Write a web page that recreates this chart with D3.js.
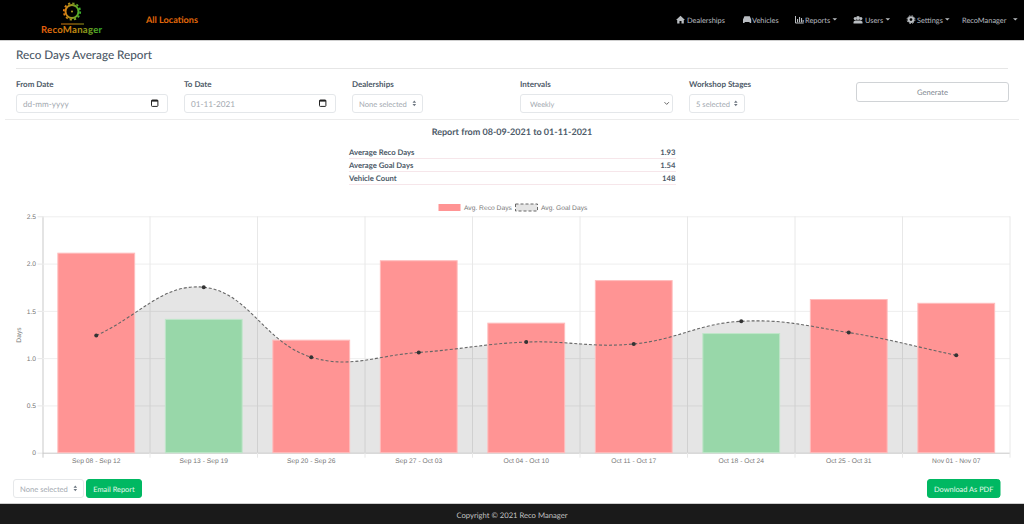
<!DOCTYPE html>
<html>
<head>
<meta charset="utf-8">
<title>Reco Days Average Report</title>
<script src="https://cdn.jsdelivr.net/npm/d3@7"></script>
<style>
html, body { margin: 0; padding: 0; background: #fff; overflow: hidden; }
svg { display: block; font-family: "Lato", sans-serif; text-rendering: geometricPrecision; }
.chart text { font-family: "Liberation Sans", sans-serif; }
</style>
</head>
<body>
<svg id="page" width="1024" height="524"></svg>
<script>
// chart data
const categories = ["Sep 08 - Sep 12", "Sep 13 - Sep 19", "Sep 20 - Sep 26", "Sep 27 - Oct 03", "Oct 04 - Oct 10", "Oct 11 - Oct 17", "Oct 18 - Oct 24", "Oct 25 - Oct 31", "Nov 01 - Nov 07"];
const recoDays = [2.11, 1.41, 1.19, 2.03, 1.37, 1.82, 1.26, 1.62, 1.58];
const goalDays = [1.24, 1.75, 1.01, 1.06, 1.17, 1.15, 1.39, 1.27, 1.03];
const yTicks = [0, 0.5, 1, 1.5, 2, 2.5];
const summaryLabels = ["Average Reco Days", "Average Goal Days", "Vehicle Count"];
const summaryValues = ["1.93", "1.54", "148"];

const svg = d3.select("#page");
const ink = "#4d5a68";

function label(g, x, y, str, size, color, weight, anchor) {
  return g.append("text").attr("x", x).attr("y", y).attr("font-size", size)
    .attr("fill", color).attr("font-weight", weight || 400)
    .attr("text-anchor", anchor || "start").text(str);
}

function box(g, x, y, w, h, stroke, fill, r) {
  return g.append("rect").attr("x", x + 0.5).attr("y", y + 0.5).attr("width", w - 1).attr("height", h - 1)
    .attr("rx", r === undefined ? 2.5 : r).attr("fill", fill || "#fff").attr("stroke", stroke || "#e4e7ea");
}

/* ---- top bar ---- */
const defs = svg.append("defs");
const grad = defs.append("linearGradient").attr("id", "logoGrad")
  .attr("gradientUnits", "userSpaceOnUse").attr("x1", 41).attr("x2", 102).attr("y1", 0).attr("y2", 0);
grad.append("stop").attr("offset", "0").attr("stop-color", "#e8590c");
grad.append("stop").attr("offset", "0.55").attr("stop-color", "#c98a10");
grad.append("stop").attr("offset", "1").attr("stop-color", "#2fb52f");
const gearGrad = defs.append("linearGradient").attr("id", "gearGrad")
  .attr("gradientUnits", "userSpaceOnUse").attr("x1", 63).attr("x2", 81).attr("y1", 0).attr("y2", 0);
gearGrad.append("stop").attr("offset", "0").attr("stop-color", "#f07a10");
gearGrad.append("stop").attr("offset", "1").attr("stop-color", "#37b52f");

const nav = svg.append("g");
nav.append("rect").attr("width", 1024).attr("height", 40).attr("fill", "#000");
nav.append("rect").attr("y", 40).attr("width", 1024).attr("height", 1).attr("fill", "#cfcfcf");

nav.append("circle").attr("cx", 72).attr("cy", 11.5).attr("r", 6.5).attr("fill", "none")
  .attr("stroke", "url(#gearGrad)").attr("stroke-width", 2);
nav.append("circle").attr("cx", 72).attr("cy", 11.5).attr("r", 8.2).attr("fill", "none")
  .attr("stroke", "url(#gearGrad)").attr("stroke-width", 1.8).attr("stroke-dasharray", "2.2 2.1");
nav.append("circle").attr("cx", 72).attr("cy", 11.5).attr("r", 1).attr("fill", "#b5a020");
nav.append("rect").attr("x", 61).attr("y", 23.5).attr("width", 23).attr("height", 1).attr("fill", "url(#logoGrad)");
label(nav, 41, 33, "RecoManager", 9.6, "url(#logoGrad)", 700).attr("letter-spacing", 0.25);

label(nav, 146, 23.3, "All Locations", 9.1, "#e0680a", 700);

const navText = "#b9bdc1";
function caret(x) {
  nav.append("path").attr("d", d3.line()([[x, 18.3], [x + 4.6, 18.3], [x + 2.3, 20.6]])).attr("fill", navText);
}
// little glyphs in the menu
nav.append("path").attr("fill", navText).attr("d", "M676 20l4.5-4.2 4.5 4.2h-1.2v3.4h-2.3v-2.3h-2v2.3h-2.3v-3.4z");
nav.append("path").attr("fill", navText).attr("d", "M743 23v-3.5l1.4-3.3h5.4l1.4 3.3v3.5h-1.6v-1h-5v1z");
nav.append("path").attr("fill", "none").attr("stroke", navText).attr("stroke-width", 1).attr("d", "M795.5 16v7h8.2");
[[797, 19, 3.3], [799, 17, 5.3], [801, 18, 4.3], [802.6, 20, 2.3]].forEach(b => {
  nav.append("rect").attr("x", b[0]).attr("y", b[1]).attr("width", 1.1).attr("height", b[2]).attr("fill", navText);
});
[[855.2, 18.4, 1.5], [858, 18, 1.9], [860.9, 18.4, 1.5]].forEach(c => {
  nav.append("circle").attr("cx", c[0]).attr("cy", c[1]).attr("r", c[2]).attr("fill", navText);
});
nav.append("path").attr("fill", navText).attr("d", "M853.5 23.4v-1.6l1.6-1.4h5.8l1.6 1.4v1.6z");
nav.append("circle").attr("cx", 911).attr("cy", 19.6).attr("r", 2.4).attr("fill", "none").attr("stroke", navText).attr("stroke-width", 2);
nav.append("circle").attr("cx", 911).attr("cy", 19.6).attr("r", 3.9).attr("fill", "none").attr("stroke", navText).attr("stroke-width", 1).attr("stroke-dasharray", "1.6 1.5");

label(nav, 687, 22.5, "Dealerships", 7.4, navText);
label(nav, 752, 22.5, "Vehicles", 7.4, navText);
label(nav, 805, 22.5, "Reports", 7.4, navText); caret(832.5);
label(nav, 865, 22.5, "Users", 7.4, navText); caret(885.5);
label(nav, 917, 22.5, "Settings", 7.4, navText); caret(945);
label(nav, 962, 23.2, "RecoManager", 7.4, navText); caret(1013);

/* ---- filter form ---- */
const form = svg.append("g");
label(form, 16, 59, "Reco Days Average Report", 11.7, "#4c5967", 500);
form.append("rect").attr("x", 16).attr("y", 68).attr("width", 992).attr("height", 1).attr("fill", "#e6e6e6");
form.append("rect").attr("x", 5).attr("y", 119).attr("width", 1014).attr("height", 1).attr("fill", "#ececec");

label(form, 16, 87, "From Date", 8, ink, 700);
label(form, 184, 87, "To Date", 8, ink, 700);
label(form, 352, 87, "Dealerships", 8, ink, 700);
label(form, 520, 87, "Intervals", 8, ink, 700);
label(form, 689, 87, "Workshop Stages", 8, ink, 700);

const hint = "#a3a9b0";
function calendar(x) {
  form.append("rect").attr("x", x + 0.5).attr("y", 100).attr("width", 6.4).attr("height", 6.4).attr("rx", 0.8)
    .attr("fill", "none").attr("stroke", "#222").attr("stroke-width", 1);
  form.append("rect").attr("x", x + 0.5).attr("y", 100).attr("width", 6.4).attr("height", 1.6).attr("fill", "#222");
}
box(form, 16, 94, 152, 19);
label(form, 23, 106.5, "dd-mm-yyyy", 8.2, hint);
calendar(151);
box(form, 184, 94, 152, 19);
label(form, 191, 106.5, "01-11-2021", 8.2, hint);
calendar(319);

function updown(g, x, y) {
  g.append("path").attr("fill", "#6d7680")
    .attr("d", `M${x} ${y - 0.6}l1.8-2.2 1.8 2.2zM${x} ${y + 0.6}l1.8 2.2 1.8-2.2z`);
}
box(form, 352, 94, 71, 19);
label(form, 359, 106.5, "None selected", 7.6, hint);
updown(form, 412.5, 103.4);
box(form, 520, 94, 153, 19);
label(form, 530, 106.5, "Weekly", 7.4, hint);
form.append("path").attr("fill", "none").attr("stroke", "#555").attr("stroke-width", 0.9).attr("d", "M664.5 102.2l2.2 2.2 2.2-2.2");
box(form, 689, 94, 56, 19);
label(form, 696, 106.5, "5 selected", 7.6, hint);
updown(form, 734, 103.4);

box(form, 856, 82, 153, 20, "#d0d3d6");
label(form, 932.5, 95, "Generate", 7.6, "#7c858e", 400, "middle");

/* ---- summary ---- */
const summary = svg.append("g");
label(summary, 512, 134.5, "Report from 08-09-2021 to 01-11-2021", 9, ink, 700, "middle");
summaryLabels.forEach((d, i) => {
  const y = 155 + i * 13;
  label(summary, 349, y, d, 7.7, ink, 700);
  label(summary, 675.5, y, summaryValues[i], 7.7, ink, 700, "end");
  summary.append("rect").attr("x", 349).attr("y", y + 3).attr("width", 327).attr("height", 1).attr("fill", "#f6e6ea");
});

/* ---- chart ---- */
const margin = { left: 42.5, right: 1010, top: 216.3, bottom: 452.7 };
const x = d3.scaleBand().domain(categories).range([margin.left, margin.right]).paddingInner(0.28).paddingOuter(0.14);
const y = d3.scaleLinear().domain([0, 2.5]).range([margin.bottom, margin.top]);
const step = x.step();
const xEdge = i => margin.left + i * step;
const cx = c => x(c) + x.bandwidth() / 2;

const chart = svg.append("g").attr("class", "chart");
const axisInk = "#777";

// horizontal grid + y axis
const yAxis = d3.axisLeft(y).tickValues(yTicks).tickFormat(d => d === 0 ? "0" : d3.format(".1f")(d))
  .tickSize(5).tickPadding(1.5);
const yG = chart.append("g").attr("transform", `translate(${margin.left},0)`).call(yAxis);
yG.select(".domain").attr("stroke", "#c9c9c9").attr("d", `M0.5,${margin.top}V${margin.bottom + 5}`);
yG.selectAll(".tick line").attr("stroke", "#e6e6e6").attr("x2", -5);
yG.selectAll(".tick").append("line").attr("x1", 0).attr("x2", margin.right - margin.left)
  .attr("stroke", d => d === 0 ? "#c9c9c9" : "#eeeeee");
yG.selectAll("text").attr("font-size", 6.7).attr("fill", axisInk).attr("font-family", "Liberation Sans");

// vertical grid
chart.append("g").selectAll("line").data(d3.range(1, 10)).join("line")
  .attr("x1", d => xEdge(d)).attr("x2", d => xEdge(d))
  .attr("y1", margin.top).attr("y2", margin.bottom + 5).attr("stroke", "#e8e8e8");

// chart.js style spline so the line overshoots between the points like the original
function splinePath(points, baseline) {
  const t = 0.4;
  const ctrl = points.map((p, i) => {
    const a = points[Math.max(i - 1, 0)], b = points[Math.min(i + 1, points.length - 1)];
    const d01 = Math.hypot(p[0] - a[0], p[1] - a[1]), d12 = Math.hypot(b[0] - p[0], b[1] - p[1]);
    const s = d01 + d12 || 1;
    return {
      prev: [p[0] - t * d01 / s * (b[0] - a[0]), p[1] - t * d01 / s * (b[1] - a[1])],
      next: [p[0] + t * d12 / s * (b[0] - a[0]), p[1] + t * d12 / s * (b[1] - a[1])]
    };
  });
  const path = d3.path();
  path.moveTo(points[0][0], points[0][1]);
  for (let i = 1; i < points.length; i++) {
    path.bezierCurveTo(ctrl[i - 1].next[0], ctrl[i - 1].next[1], ctrl[i].prev[0], ctrl[i].prev[1], points[i][0], points[i][1]);
  }
  if (baseline !== undefined) {
    path.lineTo(points[points.length - 1][0], baseline);
    path.lineTo(points[0][0], baseline);
    path.closePath();
  }
  return path.toString();
}

const goalPoints = categories.map((c, i) => [cx(c), y(goalDays[i])]);

chart.append("path").attr("d", splinePath(goalPoints, y(0))).attr("fill", "rgba(0,0,0,0.1)");

// bars are green when under the goal value, red otherwise
chart.append("g").selectAll("rect").data(categories).join("rect")
  .attr("x", d => x(d) + 0.3)
  .attr("width", x.bandwidth() - 0.6)
  .attr("y", (d, i) => y(recoDays[i]))
  .attr("height", (d, i) => y(0) - y(recoDays[i]))
  .attr("fill", (d, i) => recoDays[i] < goalDays[i] ? "#98d7a9" : "#ff9494")
  .attr("stroke", (d, i) => recoDays[i] < goalDays[i] ? "#bfe6c9" : "#ffbcbc")
  .attr("stroke-width", 1);

chart.append("path").attr("d", splinePath(goalPoints)).attr("fill", "none")
  .attr("stroke", "#666").attr("stroke-width", 1.1).attr("stroke-dasharray", "3 2");
chart.append("g").selectAll("circle").data(goalPoints).join("circle")
  .attr("cx", d => d[0]).attr("cy", d => d[1]).attr("r", 2).attr("fill", "#333");

// x axis
const xAxis = d3.axisBottom(x).tickSize(0).tickPadding(5.5);
const xG = chart.append("g").attr("transform", `translate(0,${margin.bottom})`).call(xAxis);
xG.select(".domain").remove();
xG.selectAll("text").attr("font-size", 6.7).attr("fill", axisInk).attr("font-family", "Liberation Sans");

chart.append("text").attr("transform", "translate(21,335) rotate(-90)")
  .attr("text-anchor", "middle").attr("font-size", 6.7).attr("fill", axisInk).text("Days");

// legend
chart.append("rect").attr("x", 438.5).attr("y", 204).attr("width", 22).attr("height", 7).attr("fill", "#ff9494");
label(chart, 464, 209.6, "Avg. Reco Days", 6.7, axisInk);
chart.append("rect").attr("x", 515.5).attr("y", 204).attr("width", 22).attr("height", 7)
  .attr("fill", "rgba(0,0,0,0.1)").attr("stroke", "#666").attr("stroke-width", 1).attr("stroke-dasharray", "3 2");
label(chart, 541, 209.6, "Avg. Goal Days", 6.7, axisInk);

/* ---- bottom buttons and footer ---- */
const foot = svg.append("g");
box(foot, 13, 479, 71, 19, "#e6e8ea");
label(foot, 20, 491.5, "None selected", 7.6, hint);
updown(foot, 73.5, 488.4);
box(foot, 86, 479, 56, 19, "#00b862", "#00b862");
label(foot, 114, 491.5, "Email Report", 7.4, "#e6f8ee", 400, "middle");
box(foot, 927, 479, 73.5, 19, "#00b862", "#00b862");
label(foot, 963.7, 491.5, "Download As PDF", 7.4, "#e6f8ee", 400, "middle");

foot.append("rect").attr("y", 503.5).attr("width", 1024).attr("height", 20.5).attr("fill", "#1a1a1a");
foot.append("rect").attr("y", 503).attr("width", 1024).attr("height", 1).attr("fill", "#cfcfcf");
label(foot, 512, 518, "Copyright © 2021 Reco Manager", 7.65, "#c4c4c4", 400, "middle");
</script>
</body>
</html>
